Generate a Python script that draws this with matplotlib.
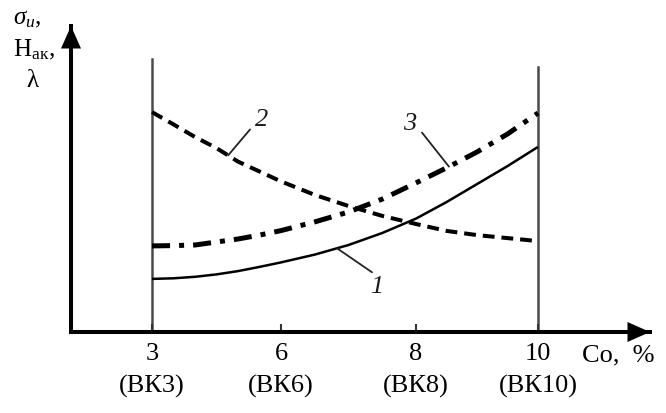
import numpy as np
import matplotlib
matplotlib.use("Agg")
import matplotlib.pyplot as plt

# ---- data (Co content, %, vs relative property level) ----
co = [3, 3.5, 4, 4.5, 5, 5.5, 6, 6.5, 7, 7.5, 8, 8.5, 9, 9.5, 10]
curve1 = [17.7, 17.9, 18.4, 19.2, 20.3, 21.7, 23.2, 25.8, 29.0, 33.0, 37.8, 43.3, 49.3, 55.3, 61.7]
curve2 = [73.3, 69.2, 65.0, 61.3, 56.8, 53.5, 50.2, 45.7, 42.0, 38.7, 36.0, 33.7, 32.3, 31.3, 30.3]
curve3 = [28.7, 28.8, 29.0, 30.0, 31.0, 32.3, 33.8, 36.7, 40.0, 44.3, 49.7, 54.7, 60.0, 66.0, 73.0]
tick_values = [3, 6, 8, 10]
tick_grades = ["ВК3", "ВК6", "ВК8", "ВК10"]
curve_names = ["1", "2", "3"]

# schematic (non-uniform) Co axis of the original drawing
co_knots = [0, 3, 6, 8, 10, 13]
pos_knots = [71, 152, 281, 416, 538, 650]

plt.rcParams["font.family"] = ["Liberation Serif", "DejaVu Serif"]
plt.rcParams["mathtext.fontset"] = "custom"
plt.rcParams["mathtext.rm"] = "Liberation Serif"
plt.rcParams["mathtext.it"] = "Liberation Serif:italic"
plt.rcParams["lines.scale_dashes"] = False

W, H = 666, 414
fig = plt.figure(figsize=(W / 100, H / 100), dpi=100)
ax = fig.add_axes([71 / W, (H - 333) / H, (650 - 71) / W, (333 - 27) / H])

fwd = lambda x: np.interp(x, co_knots, pos_knots)
inv = lambda p: np.interp(p, pos_knots, co_knots)
ax.set_xscale("function", functions=(fwd, inv))
ax.set_xlim(0, 13)
ax.set_ylim(0, 102)

# boundary lines at 3 % and 10 %
ax.axvline(3, ymin=0, ymax=0.892, color="#4a4a4a", lw=1.8, zorder=1)
ax.axvline(10, ymin=0, ymax=0.866, color="#4a4a4a", lw=1.8, zorder=1)

ax.plot(co, curve1, color="black", lw=1.8, solid_capstyle="butt", solid_joinstyle="round")
ax.plot(co, curve2, color="black", lw=2.9, dashes=(8.5, 5), dash_capstyle="butt")
ax.plot(co, curve3, color="black", lw=3.6, dashes=(13, 6.5, 3.6, 6.5), dash_capstyle="butt")

# curve labels with leader lines
def label(name, x_anchor, xs, ys, lead, txt):
    y_anchor = np.interp(x_anchor, xs, ys)
    ax.annotate("", xy=(x_anchor, y_anchor), xytext=lead, textcoords="offset points",
                arrowprops=dict(arrowstyle="-", lw=1.3, color="#222222", shrinkA=0, shrinkB=0))
    ax.annotate(name, xy=(x_anchor, y_anchor), xytext=txt, textcoords="offset points",
                ha="center", va="center", fontsize=19, style="italic", color="#1a1a1a")

label(curve_names[0], 6.83, co, curve1, (25.2, -17.3), (28.8, -27.4))
label(curve_names[1], 4.77, co, curve2, (15.8, 18.7), (23.8, 25.9))
label(curve_names[2], 8.54, co, curve3, (-19.4, 24.5), (-28, 31.7))

# axes styling
for s in ["top", "right"]:
    ax.spines[s].set_visible(False)
for s in ["left", "bottom"]:
    ax.spines[s].set_linewidth(2.9)
    ax.spines[s].set_capstyle("projecting")
ax.set_yticks([])
ax.set_xticks(tick_values, labels=[f"{v}\n({g})" for v, g in zip(tick_values, tick_grades)])
ax.minorticks_off()
ax.tick_params(axis="x", direction="in", length=6, width=1.5, pad=7, labelsize=19, color="#333333")
for t in ax.get_xticklabels():
    t.set_linespacing(1.6)

# axis arrows
ax.annotate("", xy=(1.0, 0), xytext=(0.97, 0), xycoords="axes fraction",
            arrowprops=dict(arrowstyle="-|>,head_length=0.9,head_width=0.4", color="black", lw=0,
                            mutation_scale=18, shrinkA=0, shrinkB=0))
ax.annotate("", xy=(0, 1.0), xytext=(0, 0.95), xycoords="axes fraction",
            arrowprops=dict(arrowstyle="-|>,head_length=0.9,head_width=0.4", color="black", lw=0,
                            mutation_scale=18, shrinkA=0, shrinkB=0))

# axis titles
fig.text(582 / W, 1 - 355 / H, "Co,  %", ha="left", va="center", fontsize=19)
fig.text(27 / W, 1 - 19 / H, r"$\sigma_u$,", ha="center", va="center", fontsize=18)
fig.text(34 / W, 1 - 50 / H, r"H$_{\mathrm{ак}}$,", ha="center", va="center", fontsize=18)
fig.text(32 / W, 1 - 81 / H, "λ", ha="center", va="center", fontsize=18)

fig.savefig("out.png", dpi=100)
